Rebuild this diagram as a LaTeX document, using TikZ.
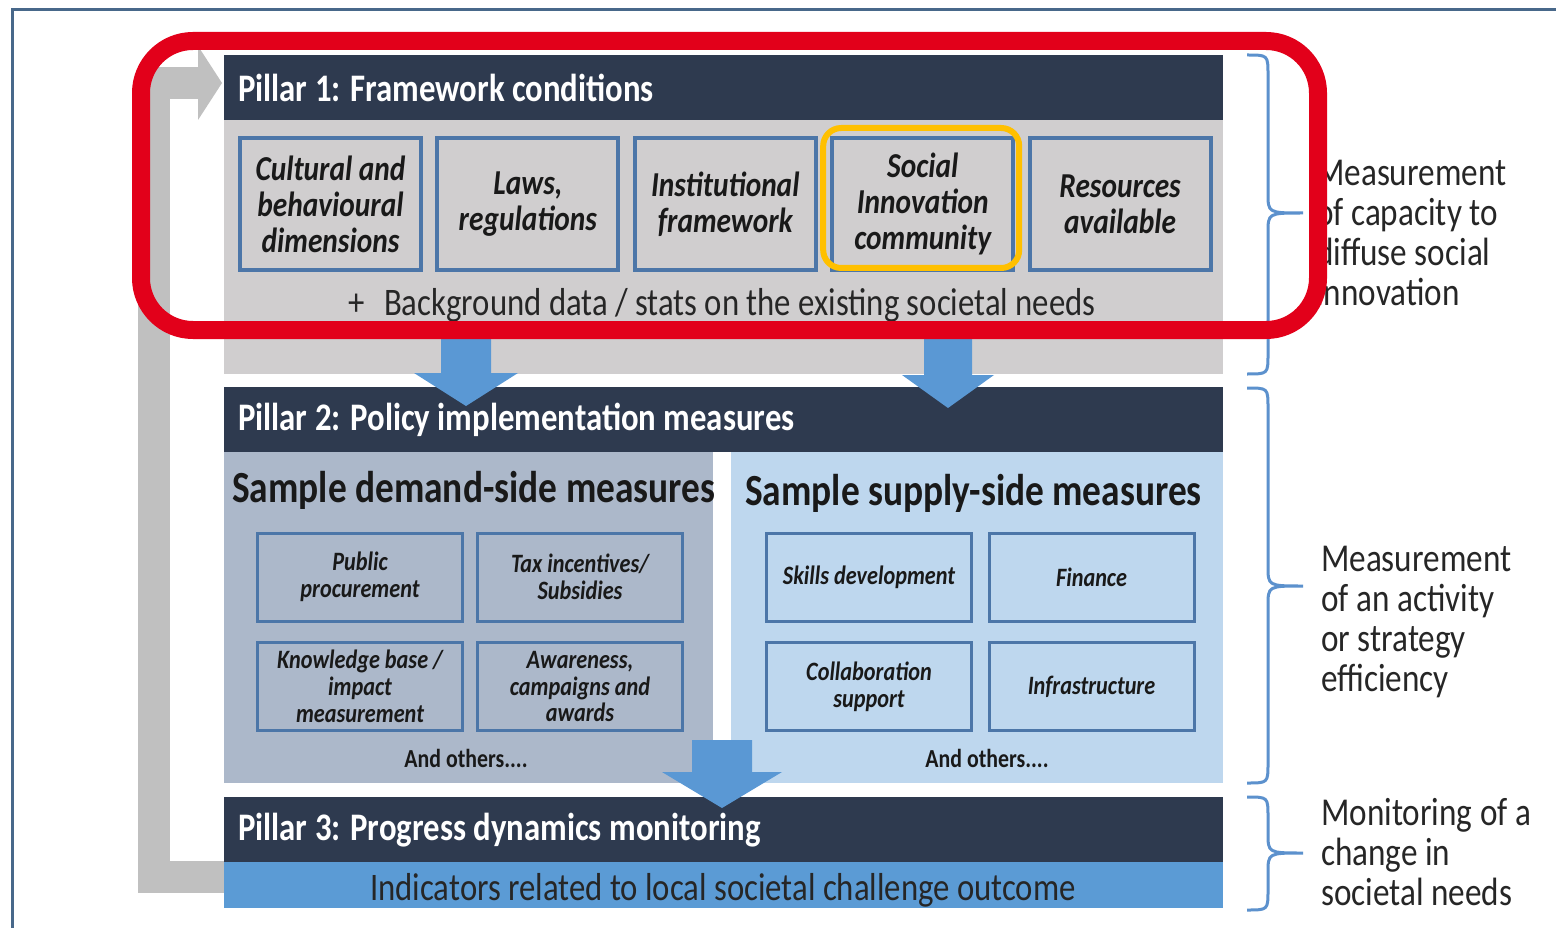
\documentclass[tikz,border=0pt]{standalone}
\usepackage{fontspec}
\setmainfont{Carlito}[FakeStretch=0.84]
\usetikzlibrary{positioning,calc}

\definecolor{navyhead}{RGB}{46,58,79}
\definecolor{pillargray}{RGB}{208,206,207}
\definecolor{boxblue}{RGB}{76,118,168}
\definecolor{demandfill}{RGB}{172,184,202}
\definecolor{supplyfill}{RGB}{190,215,238}
\definecolor{bandblue}{RGB}{91,155,213}
\definecolor{arrowblue}{RGB}{90,152,212}
\definecolor{loopgray}{RGB}{192,192,192}
\definecolor{markred}{RGB}{226,0,26}
\definecolor{markyellow}{RGB}{255,192,0}
\definecolor{bracecol}{RGB}{92,145,205}
\definecolor{framecol}{RGB}{72,104,138}

% block arrow pointing down: top, tip, shaft half width, head half width, head length
\newcommand{\downblock}[5]{%
  \fill[arrowblue] ($(#1)+(-#3,0)$) -- ($(#2)+(-#3,-#5)$) -- ($(#2)+(-#4,-#5)$) -- (#2)
    -- ($(#2)+(#4,-#5)$) -- ($(#2)+(#3,-#5)$) -- ($(#1)+(#3,0)$) -- cycle;}
% right curly brace: top, tip, bottom
\newcommand{\sidebrace}[3]{%
  \draw[bracecol, line width=3pt] (1247,#1) .. controls (1268,#1) .. (1268,#1+20)
    -- (1268,#2-20) .. controls (1268,#2) .. (1303,#2)
    .. controls (1268,#2) .. (1268,#2+20) -- (1268,#3-20) .. controls (1268,#3) .. (1247,#3);}

\begin{document}
\begin{tikzpicture}[x=1pt, y=-1pt,
    header/.style={anchor=north west, fill=navyhead, text=white, minimum height=65pt,
      text width=971pt, inner xsep=14pt, inner ysep=0pt, align=flush left,
      font=\fontsize{39}{44}\selectfont\bfseries},
    panel/.style={anchor=north west, inner sep=0pt},
    framebox/.style={draw=boxblue, line width=4pt, fill=pillargray, minimum width=181pt,
      minimum height=132pt, inner sep=0pt, align=center, text=black!90,
      font=\fontsize{35}{36}\selectfont\bfseries\itshape},
    measure/.style={draw=boxblue, line width=3pt, minimum width=205pt, minimum height=88pt,
      inner sep=0pt, align=center, text=black!90,
      font=\fontsize{26.5}{27}\selectfont\bfseries\itshape},
    note/.style={anchor=north west, inner sep=0pt, align=left, text=black!85,
      font=\fontsize{39.5}{40}\selectfont},
    others/.style={font=\fontsize{26}{28}\selectfont\bfseries, text=black!90},
    subtitle/.style={anchor=base west, inner sep=0pt, text=black!90,
      font=\fontsize{44.5}{48}\selectfont\bfseries},
  ]
  \fill[white] (0,0) rectangle (1556,928);
  \useasboundingbox (0,0) rectangle (1556,928);
  \draw[framecol, line width=3pt] (1556,10) -- (12,10) -- (12,928);

  % feedback loop
  \coordinate (loopstart) at (224,877);
  \coordinate (loopend) at (222,83);
  \draw[loopgray, line width=32pt, line join=miter] (loopstart) -| ($(loopend)+(-68,0)$) -- ($(loopend)+(-23,0)$);
  \fill[loopgray] ($(loopend)+(-24,-37)$) -- (loopend) -- ($(loopend)+(-24,37)$) -- cycle;

  % pillar 1
  \node[header] (p1head) at (224,55) {Pillar 1: Framework conditions};
  \node[panel, fill=pillargray, minimum width=999pt, minimum height=254pt] (p1body) at (224,120) {};
  \foreach \i/\txt in {0/{Cultural and\\behavioural\\dimensions}, 1/{Laws,\\regulations},
      2/{Institutional\\framework}, 3/{Social\\Innovation\\community}, 4/{Resources\\available}}
    \node[framebox] (frame\i) at (330.5+197.4*\i,204) {\txt};
  \draw[markyellow, line width=6pt, rounded corners=18pt]
    ($(frame3.north west)+(-7,-8)$) rectangle ($(frame3.south east)+(4,-4)$);
  \node[anchor=base, inner sep=0pt, font=\fontsize{39}{40}\selectfont, text=black!85] (bgdata) at (722,316)
    {+\enspace Background data / stats on the existing societal needs};

  % pillar 2
  \node[header] (p2head) at (224,387) {Pillar 2: Policy implementation measures};
  \node[panel, fill=demandfill, minimum width=489pt, minimum height=331pt] (demand) at (224,452) {};
  \node[panel, fill=supplyfill, minimum width=492pt, minimum height=331pt] (supply) at (731,452) {};
  \node[subtitle] (demandtitle) at (232,502) {Sample demand-side measures};
  \node[subtitle] (supplytitle) at (745,505) {Sample supply-side measures};
  \foreach \i/\j/\txt in {0/0/{Public\\procurement}, 1/0/{Tax incentives/\\Subsidies},
      0/1/{Knowledge base /\\impact\\measurement}, 1/1/{Awareness,\\campaigns and\\awards}}
    \node[measure, fill=demandfill] (dm\i\j) at (360+220*\i,577+109.5*\j) {\txt};
  \foreach \i/\j/\txt in {0/0/{Skills development}, 1/0/Finance,
      0/1/{Collaboration\\support}, 1/1/Infrastructure}
    \node[measure, fill=supplyfill] (sm\i\j) at (869+222.5*\i,577+109.5*\j) {\txt};
  \node[others] (dothers) at (466,758) {And others....};
  \node[others] (sothers) at (987,758) {And others....};

  % pillar 3
  \node[header] (p3head) at (224,797) {Pillar 3: Progress dynamics monitoring};
  \node[panel, fill=bandblue, minimum width=999pt, minimum height=46pt] (band) at (224,862) {};
  \node[anchor=base, inner sep=0pt, font=\fontsize{39}{40}\selectfont, text=black!85] (indicators)
    at (723,900) {Indicators related to local societal challenge outcome};

  % flow arrows
  \coordinate (a1top) at (466,335);
  \coordinate (a1tip) at (466,406);
  \coordinate (a2top) at (948,335);
  \coordinate (a2tip) at (948,408);
  \coordinate (a3top) at (722,740);
  \coordinate (a3tip) at (722,808);
  \downblock{a1top}{a1tip}{25}{52}{33}
  \downblock{a2top}{a2tip}{24}{46}{33}
  \downblock{a3top}{a3tip}{30}{60}{36}

  % braces and notes
  \sidebrace{55}{213}{374}
  \sidebrace{388}{586}{783}
  \sidebrace{797}{853}{910}
  \node[note] (note1) at (1316,160) {Measurement\\of capacity to\\diffuse social\\innovation};
  \node[note] (note2) at (1321,546) {Measurement\\of an activity\\or strategy\\efficiency};
  \node[note] (note3) at (1321,798) {Monitoring of a\\change in\\societal needs};

  % highlight
  \draw[markred, line width=18pt, rounded corners=52pt] (141,41) rectangle (1318,330);
\end{tikzpicture}
\end{document}
